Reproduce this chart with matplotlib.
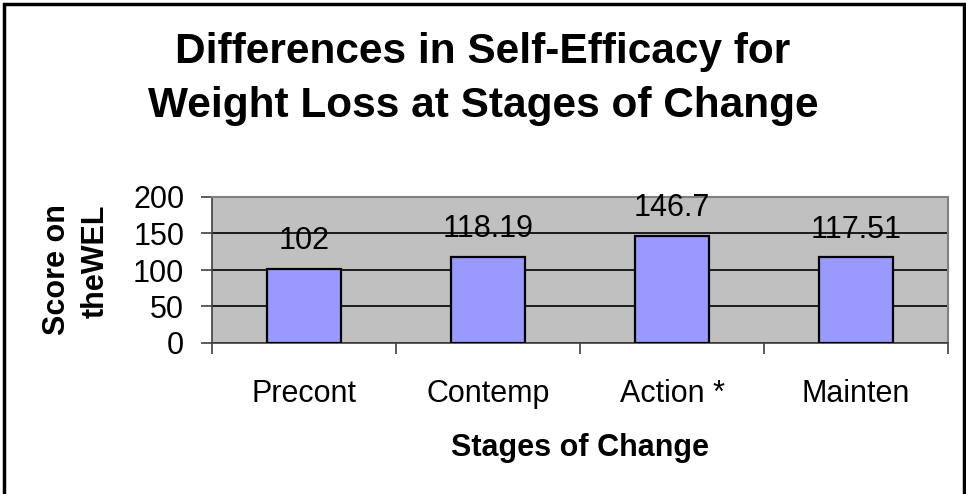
import matplotlib
matplotlib.use("Agg")
import matplotlib.pyplot as plt
from matplotlib.patches import Rectangle

# Data
stages = ["Precont", "Contemp", "Action *", "Mainten"]
scores = [102, 118.19, 146.7, 117.51]
score_labels = ["102", "118.19", "146.7", "117.51"]
y_ticks = [0, 50, 100, 150, 200]

plt.rcParams["font.family"] = ["Liberation Sans", "DejaVu Sans"]

fig = plt.figure(figsize=(9.66, 4.94), dpi=100)
ax = fig.add_axes([212 / 966, 1 - 343 / 494, (948 - 212) / 966, (343 - 197) / 494])

# Plot area
ax.set_facecolor("#C0C0C0")
x = list(range(len(stages)))
bars = ax.bar(x, scores, width=0.4, color="#9999FF", edgecolor="black", linewidth=1.6, zorder=3)

for xi, val, lab in zip(x, scores, score_labels):
    ax.annotate(lab, (xi, val), xytext=(0, 9), textcoords="offset points",
                ha="center", va="bottom", fontsize=22, zorder=4)

ax.set_xlim(-0.5, len(stages) - 0.5)
ax.set_ylim(0, 200)
ax.set_yticks(y_ticks)
ax.yaxis.grid(True, color="black", linewidth=1.2, zorder=1)
ax.set_axisbelow(True)

ax.set_xticks(x)
ax.set_xticklabels(stages, fontsize=22)
ax.set_xticks([i - 0.5 for i in range(len(stages) + 1)], minor=True)
ax.tick_params(axis="x", which="major", length=0, pad=26)
ax.tick_params(axis="x", which="minor", length=8, width=1.2, direction="out", color="#404040")
ax.tick_params(axis="y", labelsize=22, length=8, width=1.2, direction="out", pad=12, color="#404040")

for side in ["top", "right"]:
    ax.spines[side].set_color("#808080")
    ax.spines[side].set_linewidth(1.5)
for side in ["left", "bottom"]:
    ax.spines[side].set_color("#404040")
    ax.spines[side].set_linewidth(1.2)

ax.set_xlabel("Stages of Change", fontsize=22, fontweight="bold", labelpad=17)
ax.set_ylabel("Score on\ntheWEL", fontsize=22, fontweight="bold", labelpad=16,
              linespacing=1.4, multialignment="right")

fig.text(0.5, 1 - 79 / 494, "Differences in Self-Efficacy for\nWeight Loss at Stages of Change",
         ha="center", va="center", fontsize=30.5, fontweight="bold", linespacing=1.42)

# Chart border
fig.patches.append(Rectangle((4 / 966, -0.02), (964 - 4) / 966, 1.02 - 4 / 494,
                             transform=fig.transFigure, fill=False,
                             edgecolor="black", linewidth=2.5))

fig.savefig("out.png", dpi=100, facecolor="white")
